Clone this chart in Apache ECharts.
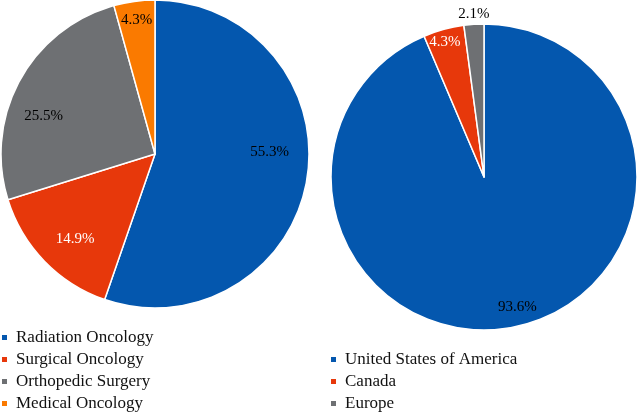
<!DOCTYPE html>
<html>
<head>
<meta charset="utf-8">
<script src="https://cdn.jsdelivr.net/npm/echarts@6/dist/echarts.min.js"></script>
<style>
html,body{margin:0;padding:0;background:#fff;}
#chart{width:639px;height:412px;}
</style>
</head>
<body>
<div id="chart"></div>
<script>
// Data (percent shares)
const specialtyNames = ['Radiation Oncology', 'Surgical Oncology', 'Orthopedic Surgery', 'Medical Oncology'];
const specialtyValues = [55.3, 14.9, 25.5, 4.3];
const regionNames = ['United States of America', 'Canada', 'Europe'];
const regionValues = [93.6, 4.3, 2.1];

// Styles
const leftColors = ['#0457AE', '#E7380B', '#6E7073', '#FA7A00'];
const rightColors = ['#0457AE', '#E7380B', '#6E7073'];
const leftLabelColors = ['#000', '#fff', '#000', '#000'];
const rightLabelColors = ['#000', '#fff', '#000'];
const leftNudge = [[-6, -22], [8, 0], [-4, 21], [-2, -13]];
const rightNudge = [[6, -4], [-3, -3], [-1, -26]];

const FONT = 'Liberation Serif';

function pieData(names, values, colors) {
  return names.map((n, i) => ({ name: n, value: values[i], itemStyle: { color: colors[i] } }));
}
function labelData(names, values, labelColors) {
  return names.map((n, i) => ({ name: n, value: values[i], label: { color: labelColors[i] } }));
}

const L = { center: [155, 154], r: 154 };
const R = { center: [484, 177], r: 153 };

const legendBase = {
  orient: 'vertical', padding: 0, height: 200,
  icon: 'rect', itemWidth: 7, itemHeight: 7, itemGap: 5,
  textStyle: { fontFamily: FONT, fontSize: 17, color: '#111', lineHeight: 17, padding: [0, 0, 0, 3] },
  selectedMode: false
};

const chart = echarts.init(document.getElementById('chart'), null, { renderer: 'canvas' });
chart.setOption({
  animation: false,
  backgroundColor: '#fff',
  textStyle: { fontFamily: FONT },
  legend: [
    Object.assign({}, legendBase, { left: 0, top: 329, data: specialtyNames }),
    Object.assign({}, legendBase, { left: 329, top: 351, data: regionNames })
  ],
  series: [
    {
      type: 'pie', center: L.center, radius: [0, L.r], startAngle: 90, clockwise: true,
      data: pieData(specialtyNames, specialtyValues, leftColors),
      itemStyle: { borderColor: '#fff', borderWidth: 1.5 },
      label: { show: false }, labelLine: { show: false }, silent: true
    },
    {
      type: 'pie', center: R.center, radius: [0, R.r], startAngle: 90, clockwise: true,
      data: pieData(regionNames, regionValues, rightColors),
      itemStyle: { borderColor: '#fff', borderWidth: 1.5 },
      label: { show: false }, labelLine: { show: false }, silent: true
    },
    {
      type: 'pie', center: L.center, radius: [L.r * 0.55, L.r], startAngle: 90, clockwise: true,
      data: labelData(specialtyNames, specialtyValues, leftLabelColors),
      itemStyle: { color: 'rgba(0,0,0,0)', borderWidth: 0 },
      label: { show: true, position: 'inside', fontFamily: FONT, fontSize: 15,
        formatter: p => p.value.toFixed(1) + '%' },
      labelLine: { show: false }, silent: true,
      labelLayout: p => ({ dx: leftNudge[p.dataIndex][0], dy: leftNudge[p.dataIndex][1] })
    },
    {
      type: 'pie', center: R.center, radius: [R.r * 0.75, R.r], startAngle: 90, clockwise: true,
      data: labelData(regionNames, regionValues, rightLabelColors),
      itemStyle: { color: 'rgba(0,0,0,0)', borderWidth: 0 },
      label: { show: true, position: 'inside', fontFamily: FONT, fontSize: 15,
        formatter: p => p.value.toFixed(1) + '%' },
      labelLine: { show: false }, silent: true,
      labelLayout: p => ({ dx: rightNudge[p.dataIndex][0], dy: rightNudge[p.dataIndex][1] })
    }
  ]
});
</script>
</body>
</html>
